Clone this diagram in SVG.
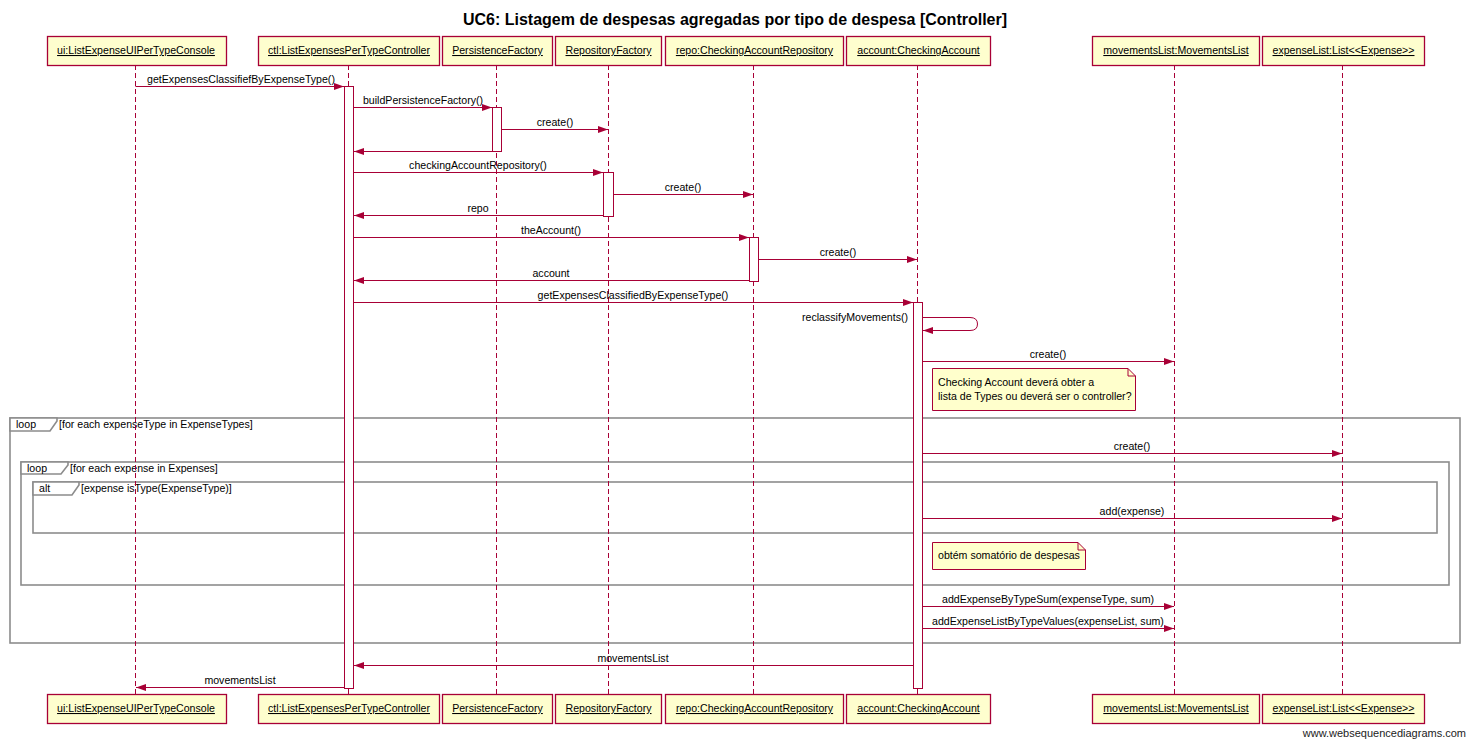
<svg xmlns="http://www.w3.org/2000/svg" width="1467" height="740" viewBox="0 0 1467 740">
<style>
text{font-family:"Liberation Sans",Arial,sans-serif;font-size:10.6px;fill:#000}
.title{font-size:16px;font-weight:bold}
.pbox{fill:#FEFECE;stroke:#A80036;stroke-width:1.3}
.plabel{text-decoration:underline;text-anchor:middle}
.life{stroke:#A80036;stroke-width:1;stroke-dasharray:5,3;fill:none}
.act{fill:#fff;stroke:#A80036;stroke-width:1}
.msg{stroke:#A80036;stroke-width:1;fill:none;marker-end:url(#arr)}
.lbl{text-anchor:middle}
.frame{fill:none;stroke:#8c8c8c;stroke-width:1.6}
.tab{fill:#fff;stroke:#8c8c8c;stroke-width:1.6}
.note{fill:#FFFFCC;stroke:#A80036;stroke-width:1}
.wm{font-size:11px;text-anchor:end;fill:#222}
</style>
<defs>
<marker id="arr" markerUnits="userSpaceOnUse" markerWidth="10" markerHeight="8" refX="10" refY="4" orient="auto">
<path d="M0,0.5 L10,4 L0,7.5 z" fill="#A80036"/>
</marker>
</defs>
<rect width="1467" height="740" fill="#fff"/>
<text class="title" x="735" y="25" text-anchor="middle">UC6: Listagem de despesas agregadas por tipo de despesa [Controller]</text>

<g id="frames">
<rect class="frame" x="10" y="418" width="1450" height="225"/>
<path class="tab" d="M10,418 L57,418 L57,421 L50,431 L10,431 z"/>
<text x="16" y="428">loop</text>
<text x="59" y="428">[for each expenseType in ExpenseTypes]</text>
<rect class="frame" x="21" y="462" width="1428" height="123"/>
<path class="tab" d="M21,462 L68,462 L68,465 L61,474 L21,474 z"/>
<text x="27" y="472">loop</text>
<text x="70" y="472">[for each expense in Expenses]</text>
<rect class="frame" x="33" y="482" width="1404" height="51"/>
<path class="tab" d="M33,482 L79,482 L79,485 L72,495 L33,495 z"/>
<text x="39" y="492">alt</text>
<text x="81" y="492">[expense isType(ExpenseType)]</text>
</g>

<g id="lifelines">
<line class="life" x1="135.5" y1="65" x2="135.5" y2="694"/>
<line class="life" x1="348.5" y1="65" x2="348.5" y2="694"/>
<line class="life" x1="496.5" y1="65" x2="496.5" y2="694"/>
<line class="life" x1="608.5" y1="65" x2="608.5" y2="694"/>
<line class="life" x1="753.5" y1="65" x2="753.5" y2="694"/>
<line class="life" x1="917.5" y1="65" x2="917.5" y2="694"/>
<line class="life" x1="1174.5" y1="65" x2="1174.5" y2="694"/>
<line class="life" x1="1342.5" y1="65" x2="1342.5" y2="694"/>
</g>

<g id="p-ui">
<rect class="pbox" x="47.5" y="36.5" width="179" height="29"/>
<text class="plabel" x="136" y="54">ui:ListExpenseUIPerTypeConsole</text>
<rect class="pbox" x="47.5" y="694.5" width="179" height="29"/>
<text class="plabel" x="136" y="712">ui:ListExpenseUIPerTypeConsole</text>
</g>
<g id="p-ctl">
<rect class="pbox" x="258.5" y="36.5" width="181" height="29"/>
<text class="plabel" x="349" y="54">ctl:ListExpensesPerTypeController</text>
<rect class="pbox" x="258.5" y="694.5" width="181" height="29"/>
<text class="plabel" x="349" y="712">ctl:ListExpensesPerTypeController</text>
</g>
<g id="p-persistence">
<rect class="pbox" x="442.5" y="36.5" width="110" height="29"/>
<text class="plabel" x="497.5" y="54">PersistenceFactory</text>
<rect class="pbox" x="442.5" y="694.5" width="110" height="29"/>
<text class="plabel" x="497.5" y="712">PersistenceFactory</text>
</g>
<g id="p-repofactory">
<rect class="pbox" x="555.5" y="36.5" width="106" height="29"/>
<text class="plabel" x="608.5" y="54">RepositoryFactory</text>
<rect class="pbox" x="555.5" y="694.5" width="106" height="29"/>
<text class="plabel" x="608.5" y="712">RepositoryFactory</text>
</g>
<g id="p-repo">
<rect class="pbox" x="665.5" y="36.5" width="178" height="29"/>
<text class="plabel" x="754.5" y="54">repo:CheckingAccountRepository</text>
<rect class="pbox" x="665.5" y="694.5" width="178" height="29"/>
<text class="plabel" x="754.5" y="712">repo:CheckingAccountRepository</text>
</g>
<g id="p-account">
<rect class="pbox" x="846.5" y="36.5" width="144" height="29"/>
<text class="plabel" x="918.5" y="54">account:CheckingAccount</text>
<rect class="pbox" x="846.5" y="694.5" width="144" height="29"/>
<text class="plabel" x="918.5" y="712">account:CheckingAccount</text>
</g>
<g id="p-movements">
<rect class="pbox" x="1092.5" y="36.5" width="167" height="29"/>
<text class="plabel" x="1176" y="54">movementsList:MovementsList</text>
<rect class="pbox" x="1092.5" y="694.5" width="167" height="29"/>
<text class="plabel" x="1176" y="712">movementsList:MovementsList</text>
</g>
<g id="p-expenselist">
<rect class="pbox" x="1262.5" y="36.5" width="162" height="29"/>
<text class="plabel" x="1343.5" y="54">expenseList:List&lt;&lt;Expense&gt;&gt;</text>
<rect class="pbox" x="1262.5" y="694.5" width="162" height="29"/>
<text class="plabel" x="1343.5" y="712">expenseList:List&lt;&lt;Expense&gt;&gt;</text>
</g>

<g id="activations">
<rect class="act" x="344.5" y="86.5" width="9" height="602"/>
<rect class="act" x="492.5" y="107.5" width="9" height="44"/>
<rect class="act" x="603.5" y="172.5" width="10" height="44"/>
<rect class="act" x="749.5" y="237.5" width="9" height="44"/>
<rect class="act" x="913.5" y="302.5" width="9" height="386"/>
</g>

<g id="connectors">
<line class="msg" x1="135.5" y1="86.5" x2="344" y2="86.5"/>
<text class="lbl" x="241" y="83">getExpensesClassifiefByExpenseType()</text>
<line class="msg" x1="353.5" y1="107.5" x2="492" y2="107.5"/>
<text class="lbl" x="423" y="104">buildPersistenceFactory()</text>
<line class="msg" x1="501.5" y1="129.5" x2="608" y2="129.5"/>
<text class="lbl" x="555" y="126">create()</text>
<line class="msg" x1="492.5" y1="151.5" x2="354" y2="151.5"/>
<line class="msg" x1="353.5" y1="172.5" x2="603" y2="172.5"/>
<text class="lbl" x="478" y="169">checkingAccountRepository()</text>
<line class="msg" x1="613.5" y1="194.5" x2="753" y2="194.5"/>
<text class="lbl" x="683" y="191">create()</text>
<line class="msg" x1="603.5" y1="215.5" x2="354" y2="215.5"/>
<text class="lbl" x="478" y="212">repo</text>
<line class="msg" x1="353.5" y1="237.5" x2="749" y2="237.5"/>
<text class="lbl" x="551" y="234">theAccount()</text>
<line class="msg" x1="758.5" y1="259.5" x2="917" y2="259.5"/>
<text class="lbl" x="838" y="256">create()</text>
<line class="msg" x1="749.5" y1="280.5" x2="354" y2="280.5"/>
<text class="lbl" x="551" y="277">account</text>
<line class="msg" x1="353.5" y1="302.5" x2="913" y2="302.5"/>
<text class="lbl" x="633" y="299">getExpensesClassifiedByExpenseType()</text>
<path class="msg" d="M922.5,317.5 L970,317.5 Q977.5,317.5 977.5,324 Q977.5,330.5 970,330.5 L923,330.5"/>
<text x="908" y="321" text-anchor="end">reclassifyMovements()</text>
<line class="msg" x1="922.5" y1="361.5" x2="1174" y2="361.5"/>
<text class="lbl" x="1048" y="358">create()</text>
<line class="msg" x1="922.5" y1="453.5" x2="1342" y2="453.5"/>
<text class="lbl" x="1132" y="450">create()</text>
<line class="msg" x1="922.5" y1="518.5" x2="1342" y2="518.5"/>
<text class="lbl" x="1132" y="515">add(expense)</text>
<line class="msg" x1="922.5" y1="606.5" x2="1174" y2="606.5"/>
<text class="lbl" x="1048" y="603">addExpenseByTypeSum(expenseType, sum)</text>
<line class="msg" x1="922.5" y1="628.5" x2="1174" y2="628.5"/>
<text class="lbl" x="1048" y="625">addExpenseListByTypeValues(expenseList, sum)</text>
<line class="msg" x1="913.5" y1="665.5" x2="354" y2="665.5"/>
<text class="lbl" x="633" y="662">movementsList</text>
<line class="msg" x1="344.5" y1="687.5" x2="136" y2="687.5"/>
<text class="lbl" x="240" y="684">movementsList</text>
</g>

<g id="note1">
<path class="note" d="M932.5,368.5 L1128,368.5 L1135.5,376 L1135.5,410.5 L932.5,410.5 z"/>
<path d="M1128,368.5 L1128,376 L1135.5,376" fill="none" stroke="#A80036" stroke-width="1"/>
<text x="938" y="386">Checking Account deverá obter a</text>
<text x="938" y="400">lista de Types ou deverá ser o controller?</text>
</g>
<g id="note2">
<path class="note" d="M932.5,542.5 L1078,542.5 L1085.5,550 L1085.5,569.5 L932.5,569.5 z"/>
<path d="M1078,542.5 L1078,550 L1085.5,550" fill="none" stroke="#A80036" stroke-width="1"/>
<text x="938" y="559">obtém somatório de despesas</text>
</g>

<text class="wm" x="1466" y="737">www.websequencediagrams.com</text>
</svg>
